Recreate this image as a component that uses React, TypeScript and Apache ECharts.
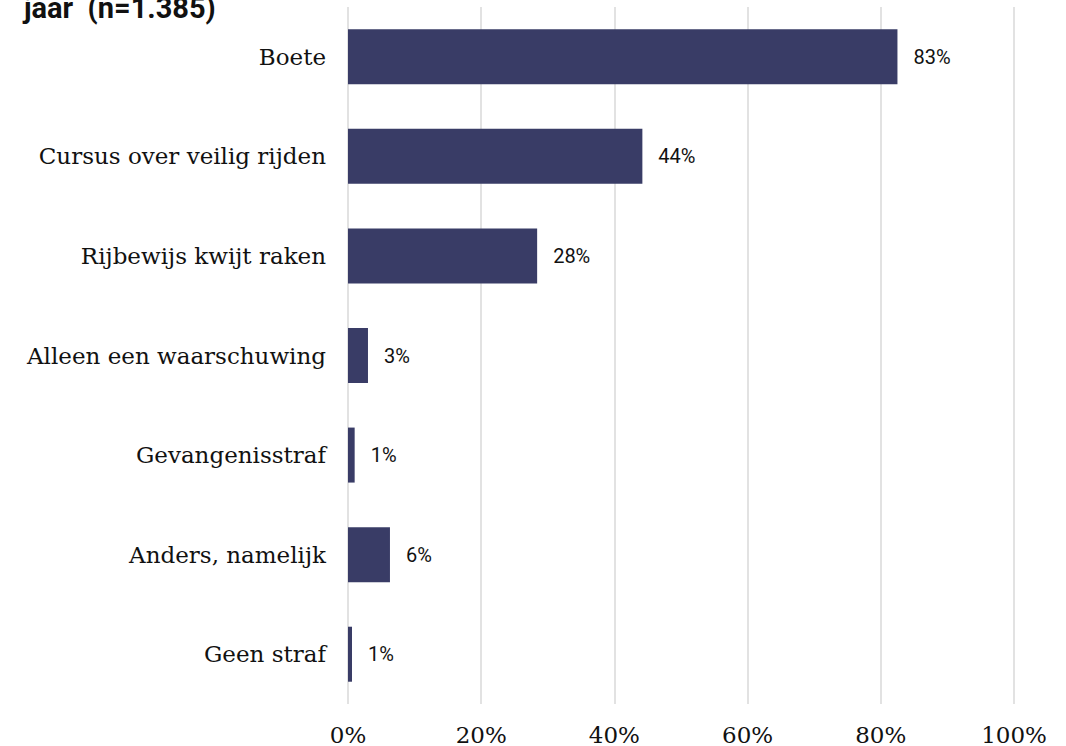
import React, { useEffect, useRef } from "react";
import * as echarts from "echarts";

const categories = [
  "Boete",
  "Cursus over veilig rijden",
  "Rijbewijs kwijt raken",
  "Alleen een waarschuwing",
  "Gevangenisstraf",
  "Anders, namelijk",
  "Geen straf",
];
const values = [82.5, 44.2, 28.4, 3.0, 1.0, 6.3, 0.6];
const valueLabels = ["83%", "44%", "28%", "3%", "1%", "6%", "1%"];
const xTicks = [0, 20, 40, 60, 80, 100];
const titleText = "jaar  (n=1.385)";

export default function App() {
  const ref = useRef<HTMLDivElement>(null);
  useEffect(() => {
    if (!ref.current) return;
    const chart = echarts.init(ref.current, null, { renderer: "svg" });
    chart.setOption({
      animation: false,
      backgroundColor: "#ffffff",
      graphic: [
        {
          type: "text",
          x: 24,
          y: 8,
          style: {
            text: titleText,
            font: "bold 29px Roboto",
            fill: "#111111",
            verticalAlign: "middle",
          },
        },
      ],
      grid: { left: 348, right: 52, top: 7, bottom: 39 },
      xAxis: {
        type: "value",
        min: xTicks[0],
        max: xTicks[xTicks.length - 1],
        interval: 20,
        axisLine: { show: false },
        axisTick: { show: false },
        splitLine: { show: true, lineStyle: { color: "#d9d9d9", width: 1.5 } },
        axisLabel: {
          formatter: (v: number) => v + "%",
          fontFamily: "DejaVu Serif",
          fontSize: 23,
          color: "#111111",
          margin: 19,
        },
      },
      yAxis: {
        type: "category",
        data: categories,
        inverse: true,
        axisLine: { show: false },
        axisTick: { show: false },
        axisLabel: {
          fontFamily: "DejaVu Serif",
          fontSize: 23,
          color: "#111111",
          margin: 22,
        },
      },
      series: [
        {
          type: "bar",
          data: values,
          barWidth: 55,
          itemStyle: { color: "#393c66" },
          label: {
            show: true,
            position: "right",
            distance: 16,
            formatter: (p: any) => valueLabels[p.dataIndex],
            fontFamily: "Roboto",
            fontSize: 20,
            color: "#111111",
          },
        },
      ],
    });
    return () => chart.dispose();
  }, []);
  return (
    <div
      ref={ref}
      style={{ position: "fixed", left: 0, top: 0, width: 1066, height: 746 }}
    />
  );
}
